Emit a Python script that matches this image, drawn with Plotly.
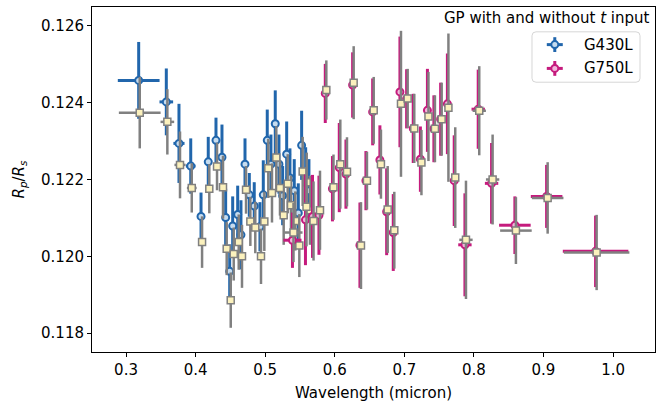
import plotly.graph_objects as go

# G430L grating: bin centres (micron), half-widths, and Rp/Rs from the two GP fits
g430_wave = [0.3182, 0.3579, 0.3761, 0.3930, 0.4078, 0.4182, 0.4293, 0.4379, 0.4432, 0.4490,
             0.4533, 0.4605, 0.4652, 0.4710, 0.4772, 0.4843, 0.4925, 0.4973, 0.5030, 0.5083,
             0.5145, 0.5198, 0.5251, 0.5309, 0.5356, 0.5418, 0.5476, 0.5524, 0.5582, 0.5629]
g430_xerr = [0.030, 0.0098, 0.008, 0.007, 0.003, 0.003, 0.003, 0.003, 0.003, 0.003,
             0.003, 0.003, 0.003, 0.003, 0.003, 0.003, 0.003, 0.003, 0.003, 0.003,
             0.003, 0.003, 0.003, 0.003, 0.003, 0.003, 0.003, 0.003, 0.003, 0.003]
g430_rp_t = [0.12458, 0.12402, 0.12294, 0.12235, 0.12104, 0.12246, 0.12302, 0.12258, 0.12101, 0.11961,
             0.12079, 0.12109, 0.12056, 0.12240, 0.12160, 0.12131, 0.12077, 0.12160, 0.12302, 0.12240,
             0.12345, 0.12240, 0.12158, 0.12266, 0.12204, 0.12171, 0.12113, 0.12289, 0.12207, 0.12171]
g430_err_t = [0.00100, 0.00087, 0.00103, 0.00072, 0.00062, 0.00065, 0.00059, 0.00085, 0.00075, 0.00070,
              0.00077, 0.00075, 0.00090, 0.00067, 0.00057, 0.00062, 0.00064, 0.00090, 0.00080, 0.00077,
              0.00087, 0.00077, 0.00077, 0.00085, 0.00077, 0.00082, 0.00077, 0.00090, 0.00077, 0.00082]
g430_rp_not = [0.12374, 0.12350, 0.12238, 0.12178, 0.12037, 0.12176, 0.12234, 0.12180, 0.12020, 0.11886,
               0.12006, 0.12037, 0.12000, 0.12173, 0.12091, 0.12075, 0.12000, 0.12091, 0.12229, 0.12165,
               0.12257, 0.12178, 0.12107, 0.12189, 0.12133, 0.12092, 0.12028, 0.12221, 0.12193, 0.12120]
g430_err_not = [0.00093, 0.00085, 0.00087, 0.00064, 0.00067, 0.00064, 0.00062, 0.00082, 0.00069, 0.00072,
                0.00069, 0.00072, 0.00082, 0.00062, 0.00064, 0.00067, 0.00072, 0.00077, 0.00077, 0.00077,
                0.00082, 0.00072, 0.00077, 0.00077, 0.00077, 0.00077, 0.00082, 0.00090, 0.00077, 0.00090]

# G750L grating
g750_wave = [0.5392, 0.5579, 0.5680, 0.5773, 0.5864, 0.5967, 0.6065, 0.6161, 0.6257, 0.6362,
             0.6448, 0.6545, 0.6649, 0.6746, 0.6841, 0.6937, 0.7033, 0.7128, 0.7231, 0.7332,
             0.7425, 0.7522, 0.7619, 0.7717, 0.7871, 0.8062, 0.8254, 0.8589, 0.9045, 0.9749]
g750_xerr = [0.013, 0.003, 0.003, 0.003, 0.003, 0.003, 0.003, 0.003, 0.003, 0.003,
             0.003, 0.003, 0.003, 0.003, 0.003, 0.003, 0.003, 0.003, 0.003, 0.003,
             0.003, 0.003, 0.003, 0.003, 0.0096, 0.0096, 0.0096, 0.0227, 0.0227, 0.0471]
g750_rp_t = [0.12042, 0.12095, 0.12104, 0.12107, 0.12424, 0.12176, 0.12231, 0.12214, 0.12446, 0.12029,
             0.12197, 0.12376, 0.12251, 0.12116, 0.12062, 0.12428, 0.12410, 0.12333, 0.12253, 0.12380,
             0.12332, 0.12357, 0.12397, 0.12197, 0.12030, 0.12383, 0.12190, 0.12081, 0.12156, 0.12013]
g750_err_t = [0.00072, 0.00118, 0.00108, 0.00103, 0.00077, 0.00085, 0.00116, 0.00090, 0.00085, 0.00111,
              0.00077, 0.00087, 0.00090, 0.00113, 0.00100, 0.00144, 0.00077, 0.00090, 0.00085, 0.00108,
              0.00087, 0.00095, 0.00131, 0.00118, 0.00134, 0.00103, 0.00105, 0.00075, 0.00082, 0.00093]
g750_rp_not = [0.12062, 0.12129, 0.12092, 0.12120, 0.12433, 0.12180, 0.12240, 0.12220, 0.12452, 0.12028,
               0.12197, 0.12380, 0.12240, 0.12122, 0.12068, 0.12397, 0.12411, 0.12333, 0.12244, 0.12364,
               0.12332, 0.12357, 0.12387, 0.12205, 0.12043, 0.12379, 0.12200, 0.12067, 0.12152, 0.12010]
g750_err_not = [0.00077, 0.00103, 0.00103, 0.00103, 0.00077, 0.00085, 0.00116, 0.00090, 0.00095, 0.00113,
                0.00075, 0.00087, 0.00090, 0.00113, 0.00100, 0.00190, 0.00077, 0.00090, 0.00085, 0.00116,
                0.00087, 0.00095, 0.00193, 0.00131, 0.00154, 0.00116, 0.00117, 0.00087, 0.00093, 0.00098]

legend_names = ["G430L", "G750L"]

BLUE, BLUE_FILL = "#2166ac", "#c6dcef"
PINK, PINK_FILL = "#c51b7d", "#f1b6da"
GREY, CREAM = "#808080", "#fbf1bd"
SHIFT = 0.0015  # small horizontal nudge so the no-time-input points sit beside the others
FONT = "DejaVu Sans"
FS = 15

fig = go.Figure()


def add_pair(wave, xerr, rp_t, err_t, rp_not, err_not, color, fill):
    fig.add_trace(go.Scatter(
        x=wave, y=rp_t, mode="markers", showlegend=False,
        marker=dict(symbol="circle", size=7, color=fill, line=dict(color=color, width=2)),
        error_x=dict(type="data", array=xerr, color=color, thickness=3, width=0),
        error_y=dict(type="data", array=err_t, color=color, thickness=3, width=0),
    ))
    fig.add_trace(go.Scatter(
        x=[w + SHIFT for w in wave], y=rp_not, mode="markers", showlegend=False,
        marker=dict(symbol="square", size=7, color=CREAM, line=dict(color=GREY, width=1.5)),
        error_x=dict(type="data", array=xerr, color=GREY, thickness=2.5, width=0),
        error_y=dict(type="data", array=err_not, color=GREY, thickness=2.5, width=0),
    ))


add_pair(g430_wave, g430_xerr, g430_rp_t, g430_err_t, g430_rp_not, g430_err_not, BLUE, BLUE_FILL)
add_pair(g750_wave, g750_xerr, g750_rp_t, g750_err_t, g750_rp_not, g750_err_not, PINK, PINK_FILL)

# Legend drawn on a hidden unit overlay axis so each key shows the errorbar cross
LEG_X0, LEG_X1, LEG_Y0, LEG_Y1 = 0.7815, 0.9734, 0.782, 0.928
key_x = 0.822
key_y = [0.891, 0.822]
for name, ky, color, fill in zip(legend_names, key_y, [BLUE, PINK], [BLUE_FILL, PINK_FILL]):
    fig.add_trace(go.Scatter(
        x=[key_x], y=[ky], xaxis="x2", yaxis="y2", mode="markers", showlegend=False,
        hoverinfo="skip",
        marker=dict(symbol="circle", size=7, color=fill, line=dict(color=color, width=2)),
        error_x=dict(type="constant", value=0.0142, color=color, thickness=3, width=0),
        error_y=dict(type="constant", value=0.0215, color=color, thickness=3, width=0),
    ))
    fig.add_annotation(text=name, xref="paper", yref="paper", x=0.870, y=ky,
                       xanchor="left", yanchor="middle", showarrow=False,
                       font=dict(family=FONT, size=FS, color="black"))

# rounded legend frame
r_x, r_y = 4 / 563, 4 / 349
frame = (f"M {LEG_X0 + r_x},{LEG_Y0} L {LEG_X1 - r_x},{LEG_Y0} Q {LEG_X1},{LEG_Y0} {LEG_X1},{LEG_Y0 + r_y} "
         f"L {LEG_X1},{LEG_Y1 - r_y} Q {LEG_X1},{LEG_Y1} {LEG_X1 - r_x},{LEG_Y1} "
         f"L {LEG_X0 + r_x},{LEG_Y1} Q {LEG_X0},{LEG_Y1} {LEG_X0},{LEG_Y1 - r_y} "
         f"L {LEG_X0},{LEG_Y0 + r_y} Q {LEG_X0},{LEG_Y0} {LEG_X0 + r_x},{LEG_Y0} Z")
fig.add_shape(type="path", path=frame, xref="paper", yref="paper", layer="below",
              line=dict(color="#d6d6d6", width=1), fillcolor="rgba(255,255,255,0.8)")

axis_common = dict(
    showline=True, linecolor="black", linewidth=1, mirror=True,
    ticks="outside", ticklen=4, tickcolor="black", showgrid=False, zeroline=False,
    tickfont=dict(family=FONT, size=FS, color="black"),
)

fig.update_xaxes(range=[0.2511, 1.0603], tickvals=[0.3, 0.4, 0.5, 0.6, 0.7, 0.8, 0.9, 1.0],
                 ticktext=["0.3", "0.4", "0.5", "0.6", "0.7", "0.8", "0.9", "1.0"],
                 title=dict(text="Wavelength (micron)", font=dict(family=FONT, size=FS, color="black"), standoff=9),
                 **axis_common)
fig.update_yaxes(range=[0.11751, 0.12649], tickvals=[0.118, 0.120, 0.122, 0.124, 0.126],
                 ticktext=["0.118", "0.120", "0.122", "0.124", "0.126"],
                 title=dict(text="<i>R</i><sub><i>p</i></sub>/<i>R</i><sub><i>s</i></sub>",
                            font=dict(family=FONT, size=FS, color="black"), standoff=12),
                 **axis_common)

fig.add_annotation(text="GP with and without <i>t</i> input", xref="paper", yref="paper",
                   x=0.9945, y=1.0, xanchor="right", yanchor="top", showarrow=False,
                   font=dict(family=FONT, size=FS, color="black"))

fig.update_layout(
    width=665, height=405,
    margin=dict(l=92, r=10, t=6, b=50),
    paper_bgcolor="white", plot_bgcolor="white",
    showlegend=False,
    xaxis2=dict(overlaying="x", range=[0, 1], visible=False, fixedrange=True),
    yaxis2=dict(overlaying="y", range=[0, 1], visible=False, fixedrange=True),
)

fig.write_html("out.html")
